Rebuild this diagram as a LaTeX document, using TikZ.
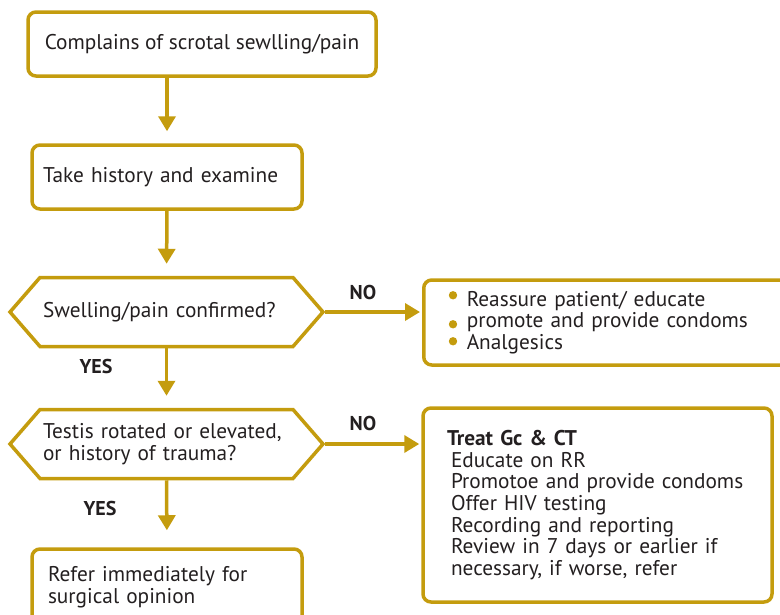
\documentclass[tikz,border=0pt]{standalone}
\usepackage{fontspec}
\setmainfont{PT Sans}
\usetikzlibrary{arrows.meta}
\usetikzlibrary{shapes.symbols}
\usetikzlibrary{calc}
\definecolor{gold}{RGB}{196,156,14}
\definecolor{ink}{RGB}{35,31,32}

\begin{document}
\begin{tikzpicture}[x=1pt,y=-1pt,
    box/.style={draw=gold, line width=3.5pt, rounded corners=8pt, align=left,
      inner ysep=0pt, text=ink, font=\fontsize{21.3}{21.7}\selectfont},
    decision/.style={draw=gold, line width=3.5pt, signal, signal to=west and east,
      signal pointer angle=98, align=left, text width=247pt, inner xsep=3pt,
      minimum height=69pt, text=ink, font=\fontsize{21.3}{21.7}\selectfont},
    flow/.style={draw=gold, line width=3.5pt, -{Triangle[width=17pt,length=15pt]}},
    lbl/.style={text=ink, font=\fontsize{20}{20}\selectfont\bfseries}]
  \clip (0,0) rectangle (780,614);

  % main column
  \node[box, minimum width=348pt, inner xsep=15pt, minimum height=64pt] (complain) at (202,44)
    {Complains of scrotal sewlling/pain};
  \node[box, text width=248pt, inner xsep=11pt, minimum height=64pt] (history) at (167,177)
    {Take history and examine};
  \node[decision] (swell) at (166.5,312) {Swelling/pain confirmed?};
  \node[decision] (testis) at (166.5,444) {Testis rotated or elevated,\\or history of trauma?};
  \node[box, text width=238pt, inner xsep=16pt, minimum height=76pt] (refer) at (167,587)
    {Refer immediately for\\surgical opinion};

  % right column
  \node[box, anchor=west, text width=310pt, inner xsep=43pt, minimum height=85pt] (reassure) at (422,322.5)
    {Reassure patient/ educate\\
     promote and provide condoms\\
     Analgesics};
  \foreach \dy in {17,46,63}
    \fill[gold] ($(reassure.north west)+(31,\dy)$) circle (4.2pt);
  \node[box, text width=301pt, inner xsep=24pt, minimum height=194pt] (treat) at (597.5,505)
    {\textbf{Treat Gc \& CT}\\
     \hspace{4pt}Educate on RR\\
     \hspace{4pt}Promotoe and provide condoms\\
     \hspace{4pt}Offer HIV testing\\
     \hspace{4pt}Recording and reporting\\
     \hspace{4pt}Review in 7 days or earlier if\\
     \hspace{4pt}necessary, if worse, refer};

  % connectors
  \draw[flow, shorten >=12pt] (complain.south -| history) -- (history.north);
  \draw[flow, shorten >=12pt] (history.south) -- (swell.north);
  \draw[flow, shorten >=12pt] (swell.south) -- (testis.north);
  \draw[flow, shorten >=17pt] (testis.south) -- (refer.north);
  \draw[flow, shorten >=2pt] (swell.east) -- (swell.east -| reassure.west);
  \draw[flow, shorten >=2pt] (testis.east) -- (testis.east -| treat.west);

  \node[lbl] (no1) at (363,292) {NO};
  \node[lbl] (yes1) at (96,366) {YES};
  \node[lbl] (no2) at (363,423) {NO};
  \node[lbl] (yes2) at (100,508) {YES};
\end{tikzpicture}
\end{document}
